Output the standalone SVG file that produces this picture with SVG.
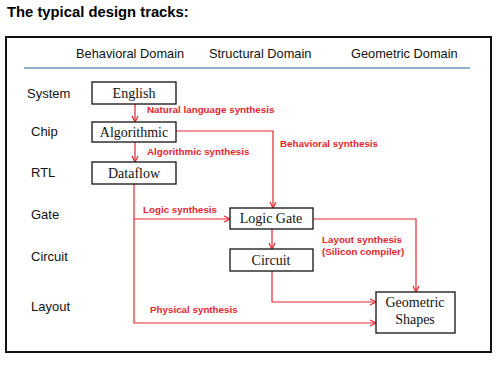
<svg xmlns="http://www.w3.org/2000/svg" width="499" height="365" viewBox="0 0 499 365">
<style>
.title{font-family:"Liberation Sans",Arial,sans-serif;font-weight:bold;font-size:14.8px;fill:#000}
.hdr{font-family:"Liberation Sans",Arial,sans-serif;font-size:12.8px;fill:#111}
.row{font-family:"Liberation Sans",Arial,sans-serif;font-size:13px;fill:#111}
.lbl{font-family:"Liberation Sans",Arial,sans-serif;font-weight:bold;font-size:9.8px;fill:#e3262f}
.box{fill:#fff;stroke:#111;stroke-width:1.3}
.bt{font-family:"Liberation Serif","Times New Roman",serif;font-size:14px;fill:#111;text-anchor:middle}
.con{fill:none;stroke:#e3262f;stroke-width:1.2;marker-end:url(#ah)}
</style>
<defs>
<marker id="ah" viewBox="0 0 8 8" refX="7" refY="4" markerWidth="8" markerHeight="8" markerUnits="userSpaceOnUse" orient="auto">
<path d="M1,1 L7,4 L1,7" fill="none" stroke="#e3262f" stroke-width="1.2"/>
</marker>
</defs>
<rect width="499" height="365" fill="#fff"/>
<text class="title" x="7" y="17">The typical design tracks:</text>
<rect x="6" y="37" width="485" height="315" fill="none" stroke="#111" stroke-width="2"/>
<text class="hdr" x="76" y="58">Behavioral Domain</text>
<text class="hdr" x="209" y="58">Structural Domain</text>
<text class="hdr" x="351" y="58">Geometric Domain</text>
<line x1="24" y1="68" x2="470" y2="68" stroke="#6b97ba" stroke-width="1.5"/>
<g id="rows">
<text class="row" x="27" y="98">System</text>
<text class="row" x="31" y="136">Chip</text>
<text class="row" x="31" y="177">RTL</text>
<text class="row" x="31" y="219">Gate</text>
<text class="row" x="31" y="261">Circuit</text>
<text class="row" x="31" y="311">Layout</text>
</g>
<g id="connectors">
<path class="con" d="M135,104 V122"/>
<path class="con" d="M135,142 V162"/>
<path class="con" d="M176,131 H273 V208"/>
<path class="con" d="M134,184 V323 H376"/>
<path class="con" d="M134,219 H230"/>
<path class="con" d="M272,229 V249"/>
<path class="con" d="M313,219 H416 V292"/>
<path class="con" d="M272,271 V302 H376"/>
<text class="lbl" x="147" y="113">Natural language synthesis</text>
<text class="lbl" x="147" y="155">Algorithmic synthesis</text>
<text class="lbl" x="280" y="147">Behavioral synthesis</text>
<text class="lbl" x="143" y="213">Logic synthesis</text>
<text class="lbl" x="322" y="243">Layout synthesis</text>
<text class="lbl" x="322" y="255">(Silicon compiler)</text>
<text class="lbl" x="150" y="313">Physical synthesis</text>
</g>
<g id="english"><rect class="box" x="92" y="82" width="84" height="22"/><text class="bt" x="134" y="98">English</text></g>
<g id="algorithmic"><rect class="box" x="92" y="122" width="84" height="20"/><text class="bt" x="134" y="137">Algorithmic</text></g>
<g id="dataflow"><rect class="box" x="92" y="162" width="84" height="22"/><text class="bt" x="134" y="178">Dataflow</text></g>
<g id="logicgate"><rect class="box" x="230" y="208" width="83" height="21"/><text class="bt" x="271" y="223">Logic Gate</text></g>
<g id="circuit"><rect class="box" x="230" y="249" width="83" height="22"/><text class="bt" x="271" y="265">Circuit</text></g>
<g id="geometric"><rect class="box" x="376" y="292" width="79" height="41"/><text class="bt" x="415" y="307">Geometric</text><text class="bt" x="415" y="324">Shapes</text></g>
</svg>
